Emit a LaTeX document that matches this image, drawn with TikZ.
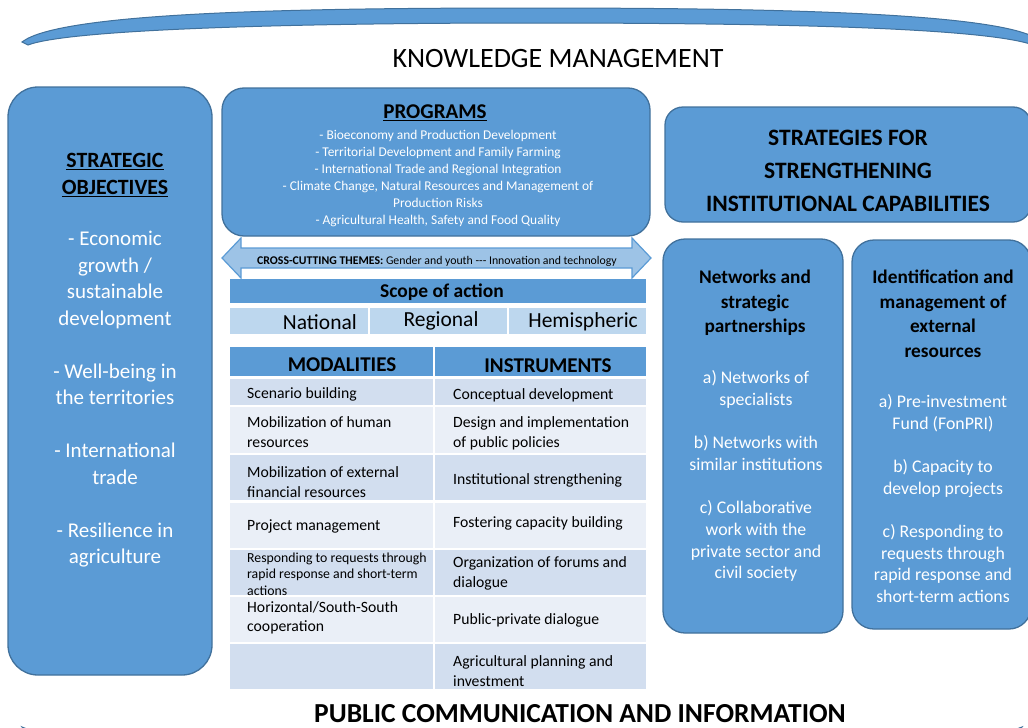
\documentclass[tikz,border=0pt]{standalone}
\usepackage{fontspec}
\setmainfont{Carlito}
\usepackage{xcolor}
\usepackage{tikz}

\definecolor{boxblue}{HTML}{5B9BD5}
\definecolor{boxline}{HTML}{41719C}
\definecolor{scopecell}{HTML}{BDD7EE}
\definecolor{arrowfill}{HTML}{9DC3E6}
\definecolor{banddark}{HTML}{D2DEEF}
\definecolor{bandlight}{HTML}{EAEFF7}

\tikzset{
	bluebox/.style={draw=boxline, fill=boxblue, line width=1.3pt},
	whitetext/.style={text=white, align=center, inner sep=0pt},
	headtext/.style={align=center, inner sep=0pt},
	celltext/.style={anchor=west, align=left, inner sep=0pt, font=\fontsize{15.7}{19.5}\selectfont},
}

\begin{document}
\begin{tikzpicture}[x=1pt, y=-1pt]
			\useasboundingbox (0,0) rectangle (1028,728);
			% arcs top and bottom
			\draw[bluebox, line width=1pt] (22,42) .. controls (60,12) and (300,8) .. (530,8) .. controls (760,8) and (990,12) .. (1036,38) -- (1036,46) .. controls (990,27) and (760,23) .. (530,23) .. controls (300,23) and (70,29) .. (28,45) -- cycle;
			\draw[bluebox, line width=1pt] (22,727) .. controls (60,745) and (300,752) .. (520,752) .. controls (740,752) and (980,745) .. (1022,727) -- (1018,732) .. controls (980,760) and (740,768) .. (520,768) .. controls (300,768) and (60,760) .. (26,732) -- cycle;
			\node[font=\fontsize{28}{33}\selectfont, inner sep=0pt] (km) at (558,59) {KNOWLEDGE MANAGEMENT};
			\node[font=\fontsize{27.5}{32}\selectfont\bfseries, inner sep=0pt] (pci) at (580,714) {PUBLIC COMMUNICATION AND INFORMATION};

			% strategic objectives
			\draw[bluebox, rounded corners=30pt] (8,87) rectangle (212,675);
			\node[headtext, font=\fontsize{21.8}{27}\selectfont\bfseries] (objtitle) at (115,175) {\underline{STRATEGIC}\\\underline{OBJECTIVES}};
			\node[whitetext, font=\fontsize{21}{26.5}\selectfont] (objlist) at (115,399.5)
			{- Economic\\growth /\\sustainable\\development\\[26.5pt]- Well-being in\\the territories\\[26.5pt]- International\\trade\\[26.5pt]- Resilience in\\agriculture};

			% programs
			\draw[bluebox, rounded corners=22pt] (222,88) rectangle (650,236);
			\node[headtext, font=\fontsize{21}{25}\selectfont\bfseries] (progtitle) at (435,113) {\underline{PROGRAMS}};
			\node[whitetext, font=\fontsize{13.4}{17}\selectfont] (proglist) at (438,178)
			{- Bioeconomy and Production Development\\- Territorial Development and Family Farming\\- International Trade and Regional Integration\\- Climate Change, Natural Resources and Management of\\Production Risks\\- Agricultural Health, Safety and Food Quality};

			% cross-cutting themes
			\draw[draw=boxblue, fill=arrowfill, line width=1.2pt] (222,258) -- (241,238) -- (241,248) -- (632,248) -- (632,238) -- (651,258) -- (632,278) -- (632,268) -- (241,268) -- (241,278) -- cycle;
			\node[font=\fontsize{11.8}{13}\selectfont, inner sep=0pt] (themes) at (437,261) {\textbf{CROSS-CUTTING THEMES:} Gender and youth -{}-{}- Innovation and technology};

			% scope of action
			\fill[boxblue] (230,279) rectangle (646,303);
			\node[headtext, font=\fontsize{19.5}{22}\selectfont\bfseries] (scope) at (442,292.5) {Scope of action};
			\fill[scopecell] (230,308) rectangle (368,334);
			\fill[scopecell] (370,308) rectangle (507,334);
			\fill[scopecell] (509,308) rectangle (646,334);
			\node[anchor=east, inner sep=0pt, font=\fontsize{21.5}{24}\selectfont] (national) at (357,322) {National};
			\node[inner sep=0pt, font=\fontsize{21.5}{24}\selectfont] (regional) at (441,321) {Regional};
			\node[anchor=east, inner sep=0pt, font=\fontsize{21.5}{24}\selectfont] (hemispheric) at (638,322) {Hemispheric};

			% modalities and instruments
			\fill[boxblue] (230,347) rectangle (433,376);
			\fill[boxblue] (435,347) rectangle (646,376);
			\node[headtext, font=\fontsize{21}{24}\selectfont\bfseries] (modalities) at (342,365) {MODALITIES};
			\node[headtext, font=\fontsize{21}{24}\selectfont\bfseries] (instruments) at (548,366) {INSTRUMENTS};
			\fill[banddark] (230,379) rectangle (433,405);
			\fill[banddark] (435,379) rectangle (646,405);
			\fill[bandlight] (230,407) rectangle (433,453);
			\fill[bandlight] (435,407) rectangle (646,453);
			\fill[banddark] (230,455) rectangle (433,500);
			\fill[banddark] (435,455) rectangle (646,500);
			\fill[bandlight] (230,503) rectangle (433,548);
			\fill[bandlight] (435,503) rectangle (646,548);
			\fill[banddark] (230,550) rectangle (433,595);
			\fill[banddark] (435,550) rectangle (646,595);
			\fill[bandlight] (230,597) rectangle (433,642);
			\fill[bandlight] (435,597) rectangle (646,642);
			\fill[banddark] (230,644) rectangle (433,689);
			\fill[banddark] (435,644) rectangle (646,689);
			\node[celltext] (mod1) at (247,394) {Scenario building};
			\node[celltext] (mod2) at (247,432) {Mobilization of human\\resources};
			\node[celltext] (mod3) at (247,482) {Mobilization of external\\financial resources};
			\node[celltext] (mod4) at (247,526) {Project management};
			\node[celltext, font=\fontsize{13.8}{16.5}\selectfont] (mod5) at (247,574) {Responding to requests through\\rapid response and short-term\\actions};
			\node[celltext] (mod6) at (247,618) {Horizontal/South-South\\cooperation};
			\node[celltext] (ins1) at (453,395) {Conceptual development};
			\node[celltext] (ins2) at (453,433.5) {Design and implementation\\of public policies};
			\node[celltext] (ins3) at (453,480) {Institutional strengthening};
			\node[celltext] (ins4) at (453,523) {Fostering capacity building};
			\node[celltext] (ins5) at (453,573.5) {Organization of forums and\\dialogue};
			\node[celltext] (ins6) at (453,620) {Public-private dialogue};
			\begin{scope}
				\clip (435,644) rectangle (646,689);
				\node[celltext] (ins7) at (453,671) {Agricultural planning and\\investment};
			\end{scope}

			% strategies
			\draw[bluebox, rounded corners=18pt] (665,107) rectangle (1031,222);
			\node[headtext, font=\fontsize{23.5}{33}\selectfont\bfseries] (strategies) at (848,171) {STRATEGIES FOR\\STRENGTHENING\\INSTITUTIONAL CAPABILITIES};
			\draw[bluebox, rounded corners=22pt] (663,239) rectangle (843,633);
			\node[headtext, font=\fontsize{19.3}{24.5}\selectfont\bfseries] (netstitle) at (755,303) {Networks and\\strategic\\partnerships};
			\node[whitetext, font=\fontsize{17.8}{21.7}\selectfont] (netslist) at (756,476)
			{a) Networks of\\specialists\\[21.7pt]b) Networks with\\similar institutions\\[21.7pt]c) Collaborative\\work with the\\private sector and\\civil society};
			\draw[bluebox, rounded corners=22pt] (852,240) rectangle (1031,629);
			\node[headtext, font=\fontsize{19.3}{24.5}\selectfont\bfseries] (restitle) at (943,314) {Identification and\\management of\\external\\resources};
			\node[whitetext, font=\fontsize{17.8}{21.7}\selectfont] (reslist) at (943,498.5)
			{a) Pre-investment\\Fund (FonPRI)\\[21.7pt]b) Capacity to\\develop projects\\[21.7pt]c) Responding to\\requests through\\rapid response and\\short-term actions};
		\end{tikzpicture}
\end{document}
